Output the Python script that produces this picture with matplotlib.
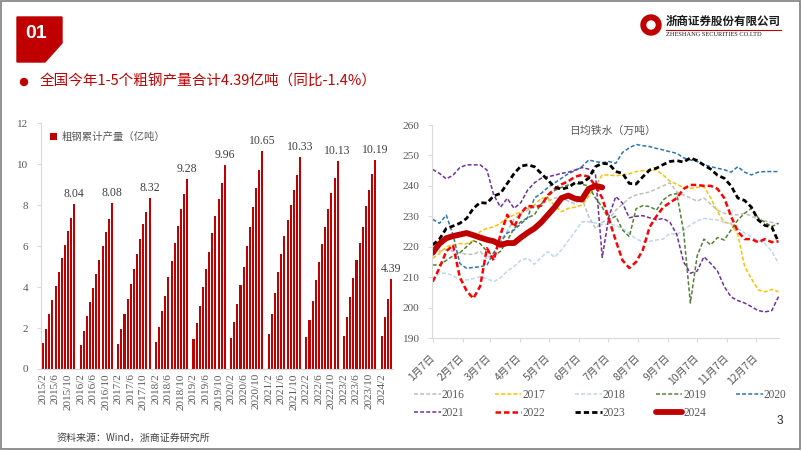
import numpy as np
import matplotlib
matplotlib.use('Agg')
import matplotlib.pyplot as plt
from matplotlib.patches import Polygon, Ellipse, Rectangle
from matplotlib.lines import Line2D

plt.rcParams['font.family'] = ['Liberation Serif', 'Noto Sans CJK SC']
CJK = ['Noto Sans CJK SC', 'DejaVu Sans']
GRAY = '#595959'
DARK_RED = '#C00000'

# 左图：粗钢累计产量（亿吨），1-2月合并，每年从2月开始
years = [2015, 2016, 2017, 2018, 2019, 2020, 2021, 2022, 2023, 2024]
prod_2015 = [1.27, 1.96, 2.67, 3.37, 4.07, 4.73, 5.41, 6.06, 6.74, 7.37, 8.04]
prod_2016 = [1.17, 1.87, 2.58, 3.26, 3.97, 4.64, 5.32, 6.00, 6.68, 7.34, 8.08]
prod_2017 = [1.22, 1.95, 2.68, 3.40, 4.15, 4.86, 5.61, 6.34, 7.06, 7.64, 8.32]
prod_2018 = [1.34, 2.07, 2.85, 3.57, 4.48, 5.29, 6.14, 6.99, 7.80, 8.55, 9.28]
prod_2019 = [1.45, 2.26, 3.09, 3.99, 4.87, 5.73, 6.63, 7.48, 8.29, 9.07, 9.96]
prod_2020 = [1.50, 2.30, 3.16, 4.10, 5.00, 5.98, 6.95, 7.90, 8.81, 9.72, 10.65]
prod_2021 = [1.71, 2.69, 3.70, 4.71, 5.62, 6.47, 7.28, 8.01, 8.75, 9.45, 10.33]
prod_2022 = [1.55, 2.39, 3.34, 4.32, 5.24, 6.09, 6.95, 7.80, 8.58, 9.32, 10.13]
prod_2023 = [1.63, 2.56, 3.50, 4.43, 5.33, 6.14, 6.92, 7.93, 8.75, 9.51, 10.19]
prod_2024 = [1.63, 2.52, 3.42, 4.39]
prod_all = [prod_2015, prod_2016, prod_2017, prod_2018, prod_2019,
            prod_2020, prod_2021, prod_2022, prod_2023, prod_2024]

# 右图：日均铁水（万吨），周度
week_days = [7 + 7 * i for i in range(52)]
month_ticks = [7, 38, 66, 97, 127, 158, 188, 219, 250, 280, 311, 341]
month_labels = ['1月7日', '2月7日', '3月7日', '4月7日', '5月7日', '6月7日',
                '7月7日', '8月7日', '9月7日', '10月7日', '11月7日', '12月7日']

hm_2016 = [218, 218.5, 219, 218.5, 218, 217.5, 217.5, 218.5, 216, 218, 222, 225, 229,
           231, 232, 233, 234, 235, 236, 236, 235, 234, 236, 230, 226, 228, 229, 232,
           234, 236, 237, 237.5, 238, 239, 240, 241, 238, 237, 236, 235, 236, 234, 232,
           231, 230.5, 230.5, 231, 230, 229, 228.5, 228, 227.5]
hm_2017 = [216.2, 217.8, 220, 220.6, 221, 221, 222, 225, 226, 226.5, 227.7, 229.5, 230.4,
           231.5, 232.5, 233.7, 235.9, 236, 233.5, 231.5, 232.6, 233, 233.7, 236.5, 240,
           243.6, 243.6, 243.3, 243.6, 244, 244.7, 245, 245.2, 245.2, 243.5, 241.5, 240.5,
           239.5, 239.2, 239.5, 239.7, 236, 231.5, 228, 227.7, 224, 213.5, 209.5, 205.8,
           205.2, 206, 205.2]
hm_2018 = [209, 211.3, 211.3, 210.5, 209.2, 209.1, 209.5, 210.2, 209.5, 208.5, 209.8, 212,
           213.5, 215.6, 216.2, 214.2, 216.5, 218.4, 216.5, 219, 222, 225, 228.2, 228.2,
           227.8, 227.2, 227.5, 227, 226, 224.4, 222.5, 221.7, 221.8, 222.2, 222.5, 224.4,
           224, 225.5, 227.1, 228.5, 229.3, 229, 228.8, 228, 227.5, 226, 224.5, 223.3,
           222, 221, 218.5, 214.5]
hm_2019 = [214, 214, 215.5, 217, 218, 220, 222, 221, 218.5, 217, 218.5, 222, 226, 228.2,
           229.5, 230.5, 234, 236.5, 238.5, 239.5, 240.3, 240.8, 240.5, 240, 236, 233, 229,
           230, 225.5, 223.3, 232.5, 233.5, 233.2, 232, 235.4, 237, 237.5, 225, 201.5, 217,
           222.5, 220.6, 223, 222.2, 225.5, 228.8, 231, 232.6, 229.5, 228, 226.6, 227.7]
hm_2020 = [229, 227.7, 230.4, 224, 214.5, 212.9, 213.2, 213.4, 214, 218, 221.5, 224.5,
           225.5, 227.5, 229.5, 236, 237.5, 239.5, 241, 242.5, 244, 245, 246.3, 248.5, 248,
           247.6, 248, 247.4, 251, 252.5, 253.6, 253.2, 252.9, 252.3, 251.8, 251.2, 250.7,
           249.2, 248.5, 248, 247, 246.3, 245.8, 245.3, 244.5, 246.3, 244.5, 243.6, 244.5,
           244.7, 244.7, 244.7]
hm_2021 = [245.4, 244.1, 242.3, 243.5, 246, 246.9, 246.9, 246.9, 245.2, 237, 233, 235.9,
           232.6, 234.5, 238.6, 241, 242.5, 243, 243.5, 244.1, 244.5, 245.2, 246, 245.5, 244,
           216.5, 230, 236.5, 234.3, 229.5, 230, 230.2, 229.5, 228.8, 229.3, 228, 224, 215,
           211.3, 212, 216.7, 214.5, 212, 206.9, 203.5, 202.3, 201.5, 200.3, 199, 198.6,
           199, 203.6]
hm_2022 = [208.5, 213, 218.5, 220.5, 210, 205.5, 203, 207, 219.5, 215.5, 224, 230.5, 226.5,
           231, 233.5, 233, 233.5, 237, 239, 240.5, 241.5, 243, 243.6, 243, 240, 236, 229,
           222, 215.5, 213, 215, 219, 226.5, 230, 233, 234.5, 236, 239, 240.3, 240.3, 240,
           240, 239, 236, 230, 225, 222.5, 222.5, 221.5, 222.5, 221.5, 221.8]
hm_2023 = [220.6, 222.5, 226, 226.8, 227.7, 229.3, 232.6, 234.5, 234.3, 236.7, 237.5, 240.8,
           244, 246.5, 246.9, 246.3, 244.1, 241.9, 239.5, 238.9, 239.5, 241, 241, 242.5,
           246.3, 247.4, 247.2, 244.7, 244.1, 240.8, 240.6, 243, 245.2, 245.8, 247, 248,
           248.3, 247.8, 249.2, 248.3, 246.8, 245.5, 243.5, 242.5, 240, 236, 235.2, 233,
           228.8, 227, 226.5, 221.5]
hm_2024 = [218, 221, 222.8, 223.5, 224, 224.5, 223.8, 223, 222.3, 221.8, 220.6, 221.2,
           221.2, 223, 224.6, 226, 228, 230.5, 233, 236, 236.8, 235.8, 235.5, 239, 240,
           239.5]

fig = plt.figure(figsize=(8.02, 4.51), dpi=100)
W, H = 802, 451


def fx(px):
    return px / W


def fy(py):
    return 1 - py / H


def dot(x, y, r, color):
    # 像素坐标下的正圆
    fig.patches.append(Ellipse((fx(x), fy(y)), 2 * r / W, 2 * r / H,
                               transform=fig.transFigure, color=color))


# ---- 页面装饰 ----
fig.patches.append(Rectangle((fx(1), fy(449)), fx(799), 448 / H, transform=fig.transFigure,
                             fill=False, edgecolor='#7F7F7F', lw=1.2))
box = [(17, 17), (62, 17), (62, 43), (45, 62), (17, 62)]
fig.patches.append(Polygon([(fx(x), fy(y)) for x, y in box], closed=True,
                           transform=fig.transFigure, color=DARK_RED))
fig.text(fx(36), fy(34), '01', color='white', fontsize=14, fontweight='bold',
         family='Liberation Sans', ha='center', va='center')

dot(651, 25, 10, DARK_RED)
dot(651, 25, 4, 'white')
fig.text(fx(666), fy(21), '浙商证券股份有限公司', fontsize=8.3, fontweight='bold',
         family=CJK, ha='left', va='center', color='#1a1a1a')
fig.lines.append(Line2D([fx(666), fx(781)], [fy(29.5), fy(29.5)], transform=fig.transFigure,
                        color=DARK_RED, lw=0.8))
fig.text(fx(666), fy(34), 'ZHESHANG SECURITIES CO.LTD', fontsize=4.6,
         ha='left', va='center', color='#1a1a1a')

dot(24, 82, 3.5, DARK_RED)
fig.text(fx(40), fy(82), '全国今年1-5个粗钢产量合计4.39亿吨（同比-1.4%）', fontsize=10.5,
         family=CJK, color=DARK_RED, ha='left', va='center')

fig.text(fx(57), fy(438), '资料来源：Wind，浙商证券研究所', fontsize=7.2, family=CJK,
         color='#404040', ha='left', va='center')
fig.text(fx(780), fy(421), '3', fontsize=8.5, family='Liberation Sans',
         color='#262626', ha='center', va='center')

# ---- 左图：柱状图 ----
cats, vals = [], []
for y, arr in zip(years, prod_all):
    first = 2 if y == 2015 else 1
    for m in range(first, len(arr) + 2):
        cats.append(f'{y}/{m}')
        vals.append(np.nan if m == 1 else arr[m - 2])
xpos = np.arange(len(cats))

ax1 = fig.add_axes([fx(41), fy(369), fx(352), 246 / H])
bars = ax1.bar(xpos, vals, width=0.66, color=DARK_RED, linewidth=0)
for y, arr in zip(years, prod_all):
    i = cats.index(f'{y}/{len(arr) + 1}')
    ax1.text(xpos[i], arr[-1] + 0.2, f'{arr[-1]:.2f}', ha='center', va='bottom',
             fontsize=8.5, color='#404040')

ax1.set_xlim(-0.64, len(cats) - 0.36)
ax1.set_ylim(0, 12)
ax1.set_yticks([0, 2, 4, 6, 8, 10, 12])
tick_idx = [i for i, c in enumerate(cats) if int(c.split('/')[1]) in (2, 6, 10)]
ax1.set_xticks(tick_idx)
ax1.set_xticklabels([cats[i] for i in tick_idx], rotation=90, fontsize=8, color=GRAY)
ax1.tick_params(axis='x', length=0, pad=3)
ax1.tick_params(axis='y', length=3, color='#D9D9D9', labelsize=8, labelcolor=GRAY, pad=6)
for s in ['top', 'right']:
    ax1.spines[s].set_visible(False)
ax1.spines['left'].set_color('#D9D9D9')
ax1.spines['bottom'].set_color('#D9D9D9')
leg1 = ax1.legend([bars], ['粗钢累计产量（亿吨）'], loc='upper left',
                  bbox_to_anchor=(0.0, 1.0), frameon=False, handlelength=0.6,
                  handleheight=0.6, handletextpad=0.5, prop={'family': CJK, 'size': 7.5})
for t in leg1.get_texts():
    t.set_color(GRAY)

# ---- 右图：日均铁水 ----
ax2 = fig.add_axes([fx(432), fy(338), fx(347), 213 / H])
thin = dict(lw=1.1, dashes=(2.6, 1.4))
series = [
    ('2016', hm_2016, '#BFBFBF', thin),
    ('2017', hm_2017, '#FFC000', thin),
    ('2018', hm_2018, '#BDD7EE', thin),
    ('2019', hm_2019, '#548235', thin),
    ('2020', hm_2020, '#2E75B6', thin),
    ('2021', hm_2021, '#7030A0', thin),
    ('2022', hm_2022, '#FF0000', dict(lw=1.8, dashes=(2.2, 1.2))),
    ('2023', hm_2023, '#000000', dict(lw=2.0, dashes=(1.9, 1.1))),
]
handles = {}
for name, vals_y, col, style in series:
    ln, = ax2.plot(week_days[:len(vals_y)], vals_y, color=col, label=name, **style)
    handles[name] = ln
ln24, = ax2.plot(week_days[:len(hm_2024)], hm_2024, color=DARK_RED, lw=4.2,
                 solid_capstyle='round', label='2024')
handles['2024'] = ln24

ax2.set_xlim(6.3, 364.5)
ax2.set_ylim(190, 260)
ax2.set_yticks(range(190, 261, 10))
ax2.set_xticks(month_ticks)
ax2.set_xticklabels(month_labels, rotation=45, ha='right', va='center',
                    rotation_mode='anchor', family=CJK, fontsize=7.5, color=GRAY)
ax2.tick_params(axis='x', length=3, color='#D9D9D9', pad=10)
ax2.tick_params(axis='y', length=3, color='#D9D9D9', labelsize=8.2, labelcolor=GRAY, pad=6)
for s in ['top', 'right']:
    ax2.spines[s].set_visible(False)
ax2.spines['left'].set_color('#D9D9D9')
ax2.spines['bottom'].set_color('#D9D9D9')
ax2.text(0.52, 0.975, '日均铁水（万吨）', transform=ax2.transAxes, ha='center', va='center',
         family=CJK, fontsize=7.8, color=GRAY)

# 图例按行排列：2016-2020 第一行，2021-2024 第二行
order = ['2016', '2021', '2017', '2022', '2018', '2023', '2019', '2024', '2020']
leg2 = fig.legend([handles[k] for k in order], order, loc='upper left',
                  bbox_to_anchor=(fx(414), fy(389)), ncol=5, frameon=False, fontsize=8.3,
                  handlelength=2.3, handletextpad=0.1, columnspacing=2.6,
                  labelspacing=0.5, borderaxespad=0, borderpad=0)
for t in leg2.get_texts():
    t.set_color(GRAY)

fig.savefig('out.png', dpi=100)
